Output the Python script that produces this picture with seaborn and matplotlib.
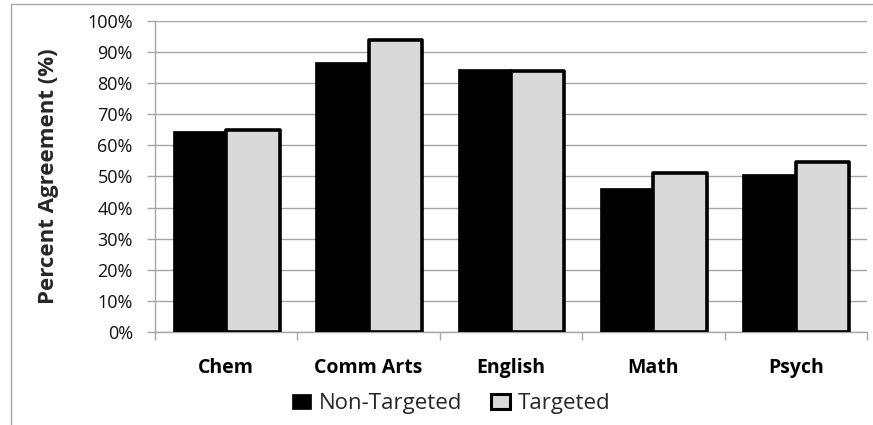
import matplotlib
matplotlib.use("Agg")
import matplotlib.pyplot as plt
import seaborn as sns
import pandas as pd
from matplotlib.patches import Rectangle
from matplotlib.ticker import PercentFormatter, FixedLocator

# Data
departments = ["Chem", "Comm Arts", "English", "Math", "Psych"]
non_targeted = [64.6, 86.9, 84.6, 46.2, 50.9]
targeted = [64.8, 94.0, 83.8, 51.2, 54.7]
groups = ["Non-Targeted", "Targeted"]

df = pd.DataFrame({
    "Department": departments * 2,
    "Group": [groups[0]] * len(departments) + [groups[1]] * len(departments),
    "Agreement": non_targeted + targeted,
})

sns.set_theme(style="white")
plt.rcParams["font.family"] = ["Open Sans", "DejaVu Sans"]

W, H = 873, 425
fig = plt.figure(figsize=(W / 100, H / 100), dpi=100)
ax = fig.add_axes([155 / W, 1 - 332 / H, (867 - 155) / W, (332 - 21) / H])

sns.barplot(data=df, x="Department", y="Agreement", hue="Group",
            palette={"Non-Targeted": "#000000", "Targeted": "#d9d9d9"},
            width=0.75, ax=ax, legend=False, zorder=3)

# Bar outlines
for bar in ax.containers[0]:
    bar.set_edgecolor("#000000")
    bar.set_linewidth(0.5)
for bar in ax.containers[1]:
    bar.set_edgecolor("#000000")
    bar.set_linewidth(2.6)
    bar.set_joinstyle("round")

ax.set_ylim(0, 100)
ax.set_xlim(-0.5, len(departments) - 0.5)
ax.yaxis.set_major_locator(FixedLocator(range(0, 101, 10)))
ax.yaxis.set_major_formatter(PercentFormatter(decimals=0))
ax.grid(axis="y", color="#a6a6a6", linewidth=1.0, zorder=0)
ax.set_axisbelow(True)

for side in ["top", "right"]:
    ax.spines[side].set_visible(False)
for side in ["left", "bottom"]:
    ax.spines[side].set_color("#a6a6a6")
    ax.spines[side].set_linewidth(1.0)

ax.tick_params(axis="y", which="major", length=6, color="#a6a6a6", width=1.0,
               labelsize=13, pad=10, left=True, labelcolor="#111111")
ax.tick_params(axis="x", which="major", length=0, labelsize=14, pad=19,
               labelcolor="#000000")
for lbl in ax.get_xticklabels():
    lbl.set_fontweight("bold")

# Category boundary ticks on the x axis
ax.set_xticks([i - 0.5 for i in range(len(departments) + 1)], minor=True)
ax.tick_params(axis="x", which="minor", length=6, color="#a6a6a6", width=1.0, bottom=True)

ax.set_xlabel("")
ax.set_ylabel("Percent Agreement (%)", fontsize=16, fontweight="bold")
ax.yaxis.set_label_coords((49 - 155) / (867 - 155), 0.5)
ax.yaxis.label.set_va("center")

# Legend
handles = [
    Rectangle((0, 0), 1, 1, facecolor="#000000", edgecolor="#000000", linewidth=0.5),
    Rectangle((0, 0), 1, 1, facecolor="#d9d9d9", edgecolor="#000000", linewidth=2.2),
]
fig.legend(handles, groups, loc="center", bbox_to_anchor=(451 / W, 1 - 404 / H),
           ncol=2, frameon=False, fontsize=16, handlelength=0.85, handleheight=0.65,
           handletextpad=0.35, columnspacing=1.3)

# Chart frame
fig.patches.append(Rectangle((11 / W, -0.1), 1.2, 1 - 4 / H + 0.1,
                             transform=fig.transFigure, fill=False,
                             edgecolor="#a6a6a6", linewidth=1.0))

fig.savefig("out.png", dpi=100)
